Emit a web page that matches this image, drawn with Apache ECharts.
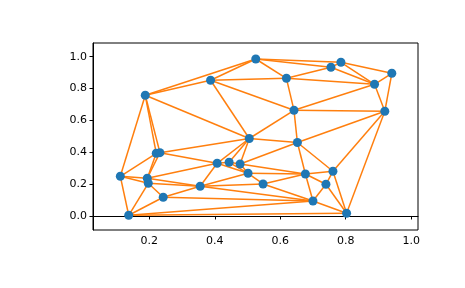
<!DOCTYPE html>
<html><head><meta charset="utf-8">
<script src="https://cdn.jsdelivr.net/npm/echarts@6/dist/echarts.min.js"></script>
<style>html,body{margin:0;padding:0;background:#fff}#c{width:465px;height:288px}</style>
</head><body><div id="c"></div>
<script>
// point coordinates
const xs = [0.5253,0.3872,0.1877,0.5055,0.7855,0.7550,0.9410,0.8882,0.6190,0.6421,0.9196,0.6525,0.2213,0.2325,0.4073,0.4439,0.4774,0.5018,0.1115,0.1938,0.1969,0.3554,0.2426,0.1371,0.7611,0.6769,0.5476,0.7397,0.7001,0.8028];
const ys = [0.9856,0.8519,0.7577,0.4865,0.9648,0.9335,0.8958,0.8267,0.8644,0.6635,0.6573,0.4614,0.3936,0.3974,0.3308,0.3371,0.3264,0.2680,0.2492,0.2367,0.2053,0.1864,0.1174,0.0044,0.2806,0.2637,0.2009,0.1990,0.0942,0.0169];
// triangles (indices into the point arrays)
const triangles = [
  [0,1,2],[1,2,3],[0,4,5],[4,5,7],[4,6,7],[0,1,8],[0,5,8],[5,7,8],[1,3,9],[1,8,9],
  [7,8,9],[6,7,10],[7,9,10],[3,9,11],[9,10,11],[2,3,13],[2,12,13],[3,13,14],[3,14,15],[3,11,16],
  [3,15,16],[14,15,17],[15,16,17],[2,12,18],[12,13,19],[13,14,19],[12,18,19],[18,19,20],[14,17,21],[14,19,21],
  [19,20,21],[20,21,22],[18,20,23],[20,22,23],[10,11,24],[11,16,25],[16,17,25],[11,24,25],[17,21,26],[17,25,26],
  [24,25,27],[21,22,28],[21,26,28],[22,23,28],[25,26,28],[25,27,28],[10,24,29],[24,27,29],[27,28,29],[23,28,29]
];
const xTicks = [0.2,0.4,0.6,0.8,1.0];
const yTicks = [0.0,0.2,0.4,0.6,0.8,1.0];

const edgeSet = {};
triangles.forEach(t => {
  [[t[0],t[1]],[t[1],t[2]],[t[0],t[2]]].forEach(e => {
    const a = Math.min(e[0],e[1]), b = Math.max(e[0],e[1]);
    edgeSet[a+'_'+b] = [a,b];
  });
});
const edgeData = Object.values(edgeSet).map(e => ({coords:[[xs[e[0]],ys[e[0]]],[xs[e[1]],ys[e[1]]]]}));
const pts = xs.map((x,i) => [x, ys[i]]);

const chart = echarts.init(document.getElementById('c'), null, {renderer:'canvas'});
const lab = {formatter:v=>v.toFixed(1),color:'#000',fontSize:11,fontFamily:'DejaVu Sans',margin:6};
chart.setOption({
  animation:false,
  grid:{left:93,top:43,width:325,height:187,show:true,borderColor:'#000',borderWidth:1},
  xAxis:{type:'value',min:0.028,max:1.021,splitLine:{show:false},
    axisLine:{show:true,lineStyle:{color:'#000',width:1}},
    axisTick:{show:true,length:3.5,customValues:xTicks,lineStyle:{color:'#000',width:1}},
    axisLabel:Object.assign({customValues:xTicks},lab)},
  yAxis:{type:'value',min:-0.088,max:1.086,splitLine:{show:false},
    axisLine:{show:true,lineStyle:{color:'#000',width:1}},
    axisTick:{show:true,length:3.5,customValues:yTicks,lineStyle:{color:'#000',width:1}},
    axisLabel:Object.assign({customValues:yTicks},lab)},
  series:[
    {type:'lines',coordinateSystem:'cartesian2d',data:edgeData,
      lineStyle:{color:'#ff7f0e',width:1.5,opacity:1},z:2,silent:true},
    {type:'scatter',data:pts,symbolSize:9,itemStyle:{color:'#1f77b4',opacity:1},z:3,silent:true}
  ]
});
</script></body></html>
